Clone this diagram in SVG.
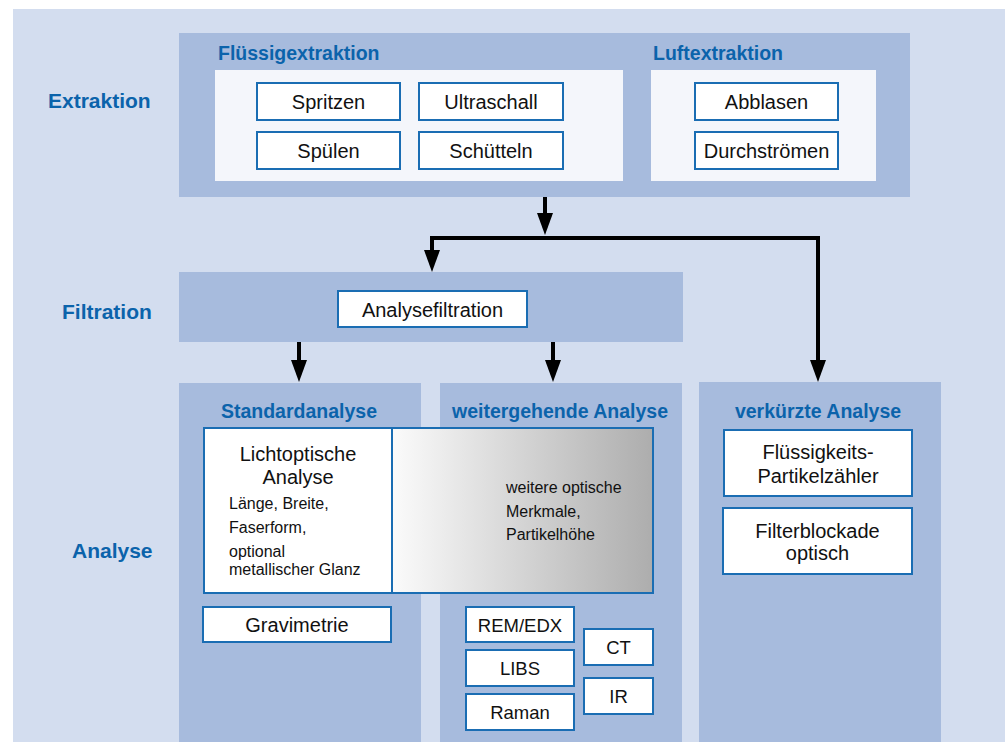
<svg xmlns="http://www.w3.org/2000/svg" width="1005" height="742" viewBox="0 0 1005 742">
<style>
text{font-family:"Liberation Sans",Arial,sans-serif;fill:#111}
.row{font-weight:bold;font-size:21px;fill:#0b63ab}
.sec{font-weight:bold;font-size:19.5px;fill:#0b63ab}
.btn{fill:#fff;stroke:#1a6db3;stroke-width:2}
.bt{font-size:20px;text-anchor:middle}
.bs{font-size:18.5px;text-anchor:middle}
.sm{font-size:16px}
.area{fill:#a7bbdd}
.inner{fill:#f4f6fb}
.conn{fill:none;stroke:#000;stroke-width:4;stroke-linejoin:miter}
</style>
<defs>
<marker id="ah" viewBox="0 0 22 16" refX="10" refY="8" markerWidth="22" markerHeight="16" markerUnits="userSpaceOnUse" orient="auto-start-reverse">
<path d="M0,0 L22,8 L0,16 Z" fill="#000"/>
</marker>
<linearGradient id="gr" x1="0" y1="0" x2="1" y2="0">
<stop offset="0" stop-color="#fbfbfb"/>
<stop offset="1" stop-color="#adadad"/>
</linearGradient>
</defs>
<rect x="13" y="9" width="992" height="733" fill="#d3ddef"/>
<g id="labels">
<text class="row" x="48" y="108">Extraktion</text>
<text class="row" x="62" y="319">Filtration</text>
<text class="row" x="72" y="558">Analyse</text>
</g>
<g id="extraktion">
<rect class="area" x="179" y="33" width="731" height="164"/>
<rect class="inner" x="215" y="70" width="408" height="111"/>
<rect class="inner" x="651" y="70" width="225" height="111"/>
<text class="sec" x="218" y="60">Flüssigextraktion</text>
<text class="sec" x="653" y="60">Luftextraktion</text>
</g>
<g id="spritzen"><rect class="btn" x="257" y="83" width="143" height="37"/><text class="bt" x="328.5" y="109">Spritzen</text></g>
<g id="ultraschall"><rect class="btn" x="419" y="83" width="144" height="37"/><text class="bt" x="491" y="109">Ultraschall</text></g>
<g id="spuelen"><rect class="btn" x="257" y="132" width="143" height="37"/><text class="bt" x="328.5" y="158">Spülen</text></g>
<g id="schuetteln"><rect class="btn" x="419" y="132" width="144" height="37"/><text class="bt" x="491" y="158">Schütteln</text></g>
<g id="abblasen"><rect class="btn" x="695" y="83" width="143" height="37"/><text class="bt" x="766.5" y="109">Abblasen</text></g>
<g id="durchstroemen"><rect class="btn" x="695" y="132" width="143" height="37"/><text class="bt" x="766.5" y="158">Durchströmen</text></g>
<g id="filtration">
<rect class="area" x="179" y="272" width="504" height="70"/>
</g>
<g id="analysefiltration"><rect class="btn" x="338" y="291" width="189" height="36"/><text class="bt" x="432.5" y="316.5">Analysefiltration</text></g>
<g id="standardanalyse">
<rect class="area" x="179" y="383" width="242" height="359"/>
<text class="sec" x="299" y="418" text-anchor="middle">Standardanalyse</text>
</g>
<g id="weitergehende">
<rect class="area" x="440" y="383" width="242" height="359"/>
<text class="sec" x="560" y="418" text-anchor="middle">weitergehende Analyse</text>
</g>
<g id="verkuerzte">
<rect class="area" x="699" y="382" width="242" height="360"/>
<text class="sec" x="818" y="418" text-anchor="middle">verkürzte Analyse</text>
</g>
<g id="lichtoptische">
<rect x="204" y="428" width="188" height="165" fill="#fff"/>
<rect x="392" y="428" width="261" height="165" fill="url(#gr)"/>
<rect x="204" y="428" width="449" height="165" fill="none" stroke="#1a6db3" stroke-width="2"/>
<line x1="392" y1="428" x2="392" y2="593" stroke="#1a6db3" stroke-width="2"/>
<text class="bt" x="298" y="461">Lichtoptische</text>
<text class="bt" x="298" y="484">Analyse</text>
<text class="sm" x="229" y="509">Länge, Breite,</text>
<text class="sm" x="229" y="533">Faserform,</text>
<text class="sm" x="229" y="557">optional</text>
<text class="sm" x="229" y="575">metallischer Glanz</text>
<text class="sm" x="506" y="493">weitere optische</text>
<text class="sm" x="506" y="517">Merkmale,</text>
<text class="sm" x="506" y="540">Partikelhöhe</text>
</g>
<g id="gravimetrie"><rect class="btn" x="203" y="607" width="188" height="35"/><text class="bt" x="297" y="632">Gravimetrie</text></g>
<g id="remedx"><rect class="btn" x="466" y="607" width="108" height="35"/><text class="bs" x="520" y="631.5">REM/EDX</text></g>
<g id="libs"><rect class="btn" x="466" y="650" width="108" height="36"/><text class="bs" x="520" y="675">LIBS</text></g>
<g id="raman"><rect class="btn" x="466" y="694" width="108" height="36"/><text class="bs" x="520" y="719">Raman</text></g>
<g id="ct"><rect class="btn" x="584" y="629" width="69" height="36"/><text class="bs" x="618.5" y="654">CT</text></g>
<g id="ir"><rect class="btn" x="584" y="678" width="69" height="36"/><text class="bs" x="618.5" y="703">IR</text></g>
<g id="partikelzaehler"><rect class="btn" x="724" y="430" width="188" height="66"/><text class="bt" x="818" y="459">Flüssigkeits-</text><text class="bt" x="818" y="483">Partikelzähler</text></g>
<g id="filterblockade"><rect class="btn" x="723" y="508" width="189" height="66"/><text class="bt" x="817.5" y="538">Filterblockade</text><text class="bt" x="817.5" y="560">optisch</text></g>
<g id="connectors">
<path class="conn" d="M545,197 V223" marker-end="url(#ah)"/>
<path class="conn" d="M432,260 V238 H818 V370" marker-start="url(#ah)" marker-end="url(#ah)"/>
<path class="conn" d="M299,342 V370" marker-end="url(#ah)"/>
<path class="conn" d="M553,342 V370" marker-end="url(#ah)"/>
</g>
</svg>
